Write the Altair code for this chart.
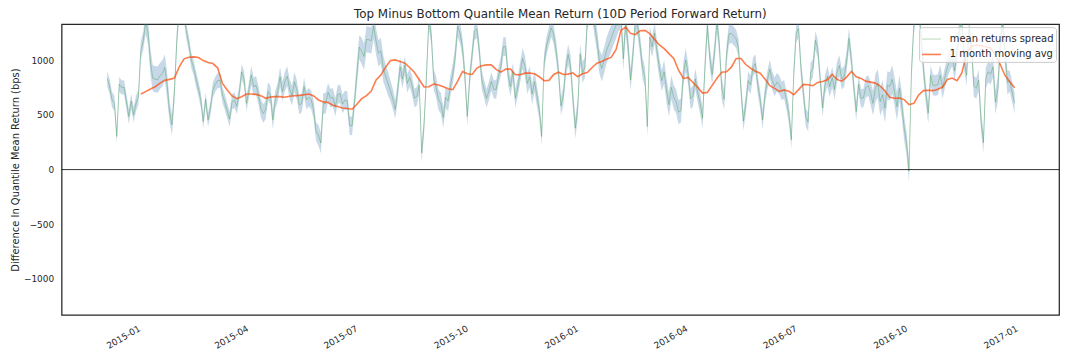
import altair as alt
import pandas as pd

# ---- data ----
spread_start = "2014-12-07"
spread_step = "2D"
spread_bps = [
    834, 758, 640, 606, 303, 782, 752, 752, 625, 485, 625, 500, 606, 664, 1091, 1176, 1349, 1258, 985, 834,
    828, 822, 858, 879, 934, 764, 522, 410, 713, 1182, 1485, 1485, 1425, 1258, 1152, 1000, 934, 828, 740, 637,
    440, 643, 455, 561, 728, 779, 813, 819, 682, 616, 537, 461, 622, 634, 579, 697, 894, 834, 606, 719,
    864, 758, 770, 682, 561, 513, 546, 713, 682, 455, 637, 706, 849, 713, 806, 855, 737, 676, 803, 728,
    591, 606, 758, 637, 661, 637, 546, 349, 313, 243, 606, 606, 706, 652, 661, 570, 685, 694, 600, 637,
    631, 403, 400, 619, 873, 1119, 1085, 1034, 1191, 1188, 1179, 1312, 1173, 1064, 1085, 925, 852, 785, 719, 646,
    549, 722, 940, 828, 955, 788, 843, 767, 655, 670, 773, 150, 413, 870, 1370, 1228, 825, 758, 637, 606,
    476, 661, 628, 770, 879, 1046, 1309, 1246, 1116, 858, 485, 834, 1052, 1267, 1288, 1088, 825, 737, 652, 719,
    806, 737, 731, 858, 946, 1125, 1125, 861, 758, 894, 652, 752, 885, 1016, 949, 788, 849, 691, 806, 673,
    546, 303, 985, 1131, 1219, 1297, 1234, 1088, 894, 582, 670, 925, 1052, 952, 646, 379, 558, 1058, 888, 934,
    1379, 1485, 1485, 1328, 1188, 994, 925, 1000, 1088, 1149, 1203, 1267, 1319, 1385, 1394, 1013, 1355, 1122, 819, 1052,
    1355, 1312, 1131, 928, 849, 394, 1213, 1122, 1249, 1088, 931, 813, 894, 722, 594, 752, 661, 622, 525, 540,
    873, 1003, 873, 649, 673, 828, 703, 606, 470, 940, 1319, 1028, 870, 1079, 1349, 1137, 737, 643, 1055, 1240,
    1246, 1222, 1194, 1109, 734, 443, 594, 813, 776, 937, 970, 773, 643, 455, 682, 816, 919, 816, 758, 800,
    773, 719, 734, 628, 503, 273, 879, 1249, 1291, 925, 700, 479, 434, 891, 928, 1182, 1106, 828, 564, 776,
    852, 758, 843, 734, 891, 952, 828, 852, 988, 1200, 1003, 758, 531, 779, 652, 655, 752, 767, 700, 606,
    746, 788, 622, 685, 561, 770, 761, 825, 710, 576, 743, 594, 373, 237, -15, 879, 1319, 1485, 1485, 1228,
    922, 697, 516, 861, 773, 770, 776, 864, 743, 849, 937, 997, 1040, 903, 1082, 1279, 1382, 994, 861, 1288,
    1137, 764, 743, 819, 449, 246, 840, 894, 873, 940, 616, 734, 1140, 1376, 1049, 797, 809, 703, 606,
]
spread_sem = [
    70, 70, 70, 70, 65, 65, 65, 65, 70, 70, 70, 70, 70, 70, 85, 85, 110, 110, 120, 120,
    120, 120, 120, 120, 120, 120, 95, 95, 95, 95, 70, 70, 70, 70, 70, 70, 70, 70, 70, 70,
    65, 65, 65, 65, 70, 70, 70, 70, 70, 70, 70, 70, 70, 70, 70, 70, 70, 70, 70, 70,
    85, 85, 85, 85, 85, 85, 85, 85, 85, 85, 85, 85, 90, 90, 90, 90, 90, 90, 90, 90,
    85, 85, 85, 85, 85, 85, 85, 85, 95, 95, 95, 95, 85, 85, 85, 85, 85, 85, 85, 85,
    85, 85, 85, 85, 110, 110, 120, 120, 120, 120, 120, 120, 120, 120, 120, 120, 110, 110, 95, 95,
    85, 85, 85, 85, 85, 85, 85, 85, 85, 85, 85, 85, 85, 85, 85, 85, 95, 95, 95, 95,
    95, 95, 95, 95, 95, 95, 95, 95, 95, 95, 85, 85, 85, 85, 85, 85, 85, 85, 85, 85,
    85, 85, 85, 85, 85, 85, 85, 85, 85, 85, 85, 85, 95, 95, 95, 95, 95, 95, 95, 95,
    85, 85, 85, 85, 85, 85, 85, 85, 85, 85, 85, 85, 95, 95, 95, 95, 95, 95, 95, 95,
    110, 110, 110, 110, 110, 110, 120, 120, 120, 120, 120, 120, 120, 120, 110, 110, 110, 110, 95, 95,
    95, 95, 95, 95, 95, 95, 95, 95, 95, 95, 95, 95, 110, 110, 110, 110, 110, 110, 110, 110,
    110, 110, 95, 95, 95, 95, 95, 95, 95, 95, 95, 95, 95, 95, 95, 95, 95, 95, 95, 95,
    85, 85, 85, 85, 85, 85, 85, 85, 85, 85, 85, 85, 85, 85, 85, 85, 85, 85, 85, 85,
    85, 85, 85, 85, 85, 85, 85, 85, 85, 85, 85, 85, 85, 85, 85, 85, 85, 85, 85, 85,
    95, 95, 95, 95, 95, 95, 95, 95, 95, 95, 85, 85, 85, 85, 85, 85, 95, 95, 110, 110,
    130, 130, 130, 130, 130, 130, 130, 130, 130, 130, 120, 120, 110, 110, 95, 95, 85, 85, 85, 85,
    95, 95, 95, 95, 95, 95, 95, 95, 95, 95, 95, 95, 95, 95, 95, 95, 95, 95, 95, 95,
    95, 95, 95, 95, 95, 95, 95, 95, 95, 95, 110, 110, 110, 110, 110, 110, 95, 95, 95,
]
avg_start = "2015-01-04"
avg_step = "4D"
avg_bps = [
    691, 713, 737, 758, 791, 816, 825, 837, 940, 1013,
    1028, 1031, 1025, 997, 979, 970, 931, 788, 728, 673,
    649, 667, 691, 691, 688, 676, 652, 664, 667, 667,
    661, 670, 676, 679, 685, 691, 673, 637, 619, 613,
    588, 576, 564, 558, 552, 597, 649, 676, 719, 819,
    864, 937, 997, 1003, 988, 973, 934, 888, 822, 755,
    758, 782, 773, 758, 740, 731, 809, 897, 876, 870,
    928, 949, 958, 958, 916, 891, 919, 919, 867, 867,
    882, 882, 876, 849, 813, 816, 870, 891, 870, 873,
    885, 849, 876, 888, 934, 973, 988, 1010, 1028, 1100,
    1273, 1303, 1246, 1234, 1270, 1273, 1243, 1191, 1140, 1106,
    1061, 1016, 909, 834, 843, 797, 752, 700, 706, 770,
    835, 891, 894, 937, 1016, 1016, 961, 928, 900, 882,
    828, 767, 743, 716, 728, 716, 685, 731, 779, 776,
    767, 797, 806, 822, 870, 825, 809, 846, 897, 849,
    834, 809, 800, 791, 764, 719, 661, 652, 655, 640,
    594, 606, 682, 722, 725, 722, 734, 755, 825, 837,
    813, 885, 1061, 1128, 1137, 1134, 1122, 1113, 1049, 961,
    861, 803, 749,
]
series_names = ["mean returns spread", "1 month moving avg"]
series_colors = ["forestgreen", "orangered"]
series_opacity = [0.4, 0.7]
series_width = [0.8, 1.6]
y_ticks = [-1000, -500, 0, 500, 1000]
y_limit = 1330
zero_level = [0]
x_ticks = [(2015, 1), (2015, 4), (2015, 7), (2015, 10), (2016, 1),
           (2016, 4), (2016, 7), (2016, 10), (2017, 1)]
x_range = [(2014, 10, 30), (2017, 2, 7)]
title_text = "Top Minus Bottom Quantile Mean Return (10D Period Forward Return)"
y_title = "Difference In Quantile Mean Return (bps)"

# ---- tables ----
spread_df = pd.DataFrame({
    "date": pd.date_range(spread_start, periods=len(spread_bps), freq=spread_step),
    "value": spread_bps,
    "sem": spread_sem,
})
spread_df["lower"] = spread_df["value"] - spread_df["sem"]
spread_df["upper"] = spread_df["value"] + spread_df["sem"]
spread_df["series"] = series_names[0]

avg_df = pd.DataFrame({
    "date": pd.date_range(avg_start, periods=len(avg_bps), freq=avg_step),
    "value": avg_bps,
})
avg_df["series"] = series_names[1]

zero_df = pd.DataFrame({"level": zero_level})

FONT = "DejaVu Sans"
TXT = "#262626"

x_enc = alt.X(
    "date:T",
    scale=alt.Scale(
        domain=[alt.DateTime(year=y, month=m, date=d) for (y, m, d) in x_range],
        nice=False,
    ),
    axis=alt.Axis(
        values=[alt.DateTime(year=y, month=m, date=1) for (y, m) in x_ticks],
        format="%Y-%m",
        labelAngle=330,
        labelAlign="right",
        labelBaseline="top",
        labelPadding=9,
        labelOverlap=False,
        labelFlush=False,
        ticks=False,
        grid=False,
        domain=False,
        title=None,
    ),
)
y_scale = alt.Scale(domain=[-y_limit, y_limit], nice=False, zero=False)
y_axis = alt.Axis(
    values=y_ticks,
    format="d",
    ticks=False,
    grid=False,
    domain=False,
    labelPadding=8,
    title=y_title,
    titlePadding=3,
)

color_enc = alt.Color(
    "series:N",
    scale=alt.Scale(domain=series_names, range=series_colors),
    legend=alt.Legend(title=None),
)
opacity_enc = alt.Opacity(
    "series:N",
    scale=alt.Scale(type="point", domain=series_names, range=series_opacity, padding=0),
    legend=alt.Legend(title=None),
)
width_enc = alt.StrokeWidth(
    "series:N",
    scale=alt.Scale(type="point", domain=series_names, range=series_width, padding=0),
    legend=alt.Legend(title=None),
)

band = alt.Chart(spread_df).mark_area(color="steelblue", opacity=0.3, clip=True).encode(
    x=x_enc,
    y=alt.Y("lower:Q", scale=y_scale, axis=y_axis),
    y2="upper:Q",
)
spread_line = alt.Chart(spread_df).mark_line(clip=True).encode(
    x=x_enc,
    y=alt.Y("value:Q", scale=y_scale, axis=y_axis),
    color=color_enc,
    opacity=opacity_enc,
    strokeWidth=width_enc,
)
avg_line = alt.Chart(avg_df).mark_line(clip=True).encode(
    x=x_enc,
    y=alt.Y("value:Q", scale=y_scale, axis=y_axis),
    color=color_enc,
    opacity=opacity_enc,
    strokeWidth=width_enc,
)
zero_rule = alt.Chart(zero_df).mark_rule(color="black", opacity=0.8, strokeWidth=1).encode(
    y=alt.Y("level:Q", scale=y_scale, axis=y_axis)
)

chart = (
    alt.layer(band, spread_line, avg_line, zero_rule)
    .properties(
        width=1005,
        height=293,
        autosize=alt.AutoSizeParams(type="none"),
        padding={"left": 54, "top": 15, "right": 6, "bottom": 36},
        title=alt.Title(
            title_text, font=FONT, fontSize=12, fontWeight="normal", color=TXT, offset=3
        ),
    )
    .configure_view(stroke=TXT, strokeWidth=1.25)
    .configure_axis(
        labelFont=FONT, labelFontSize=9, labelColor=TXT,
        titleFont=FONT, titleFontSize=10, titleColor=TXT, titleFontWeight="normal",
    )
    .configure_legend(
        orient="top-right",
        offset=3,
        padding=2,
        rowPadding=-3,
        fillColor="rgba(255,255,255,0.8)",
        strokeColor="#cccccc",
        cornerRadius=3,
        symbolType="stroke",
        symbolSize=361,
        labelFont=FONT,
        labelFontSize=10,
        labelColor=TXT,
        labelOffset=8,
    )
)

chart.save("out.html", embed_options={"renderer": "svg", "actions": False})
